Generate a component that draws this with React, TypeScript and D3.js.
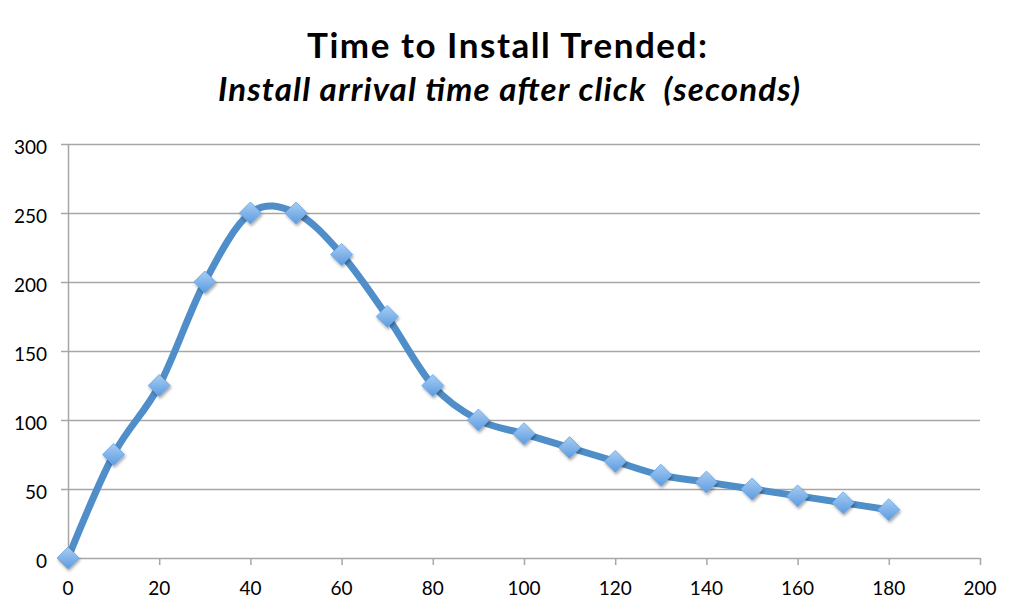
import * as d3 from 'd3';

// Data
const seconds = [0, 10, 20, 30, 40, 50, 60, 70, 80, 90, 100, 110, 120, 130, 140, 150, 160, 170, 180];
const installs = [0, 75, 125, 200, 250, 250, 220, 175, 125, 100, 90, 80, 70, 60, 55, 50, 45, 40, 35];
const xTicks = [0, 20, 40, 60, 80, 100, 120, 140, 160, 180, 200];
const yTicks = [0, 50, 100, 150, 200, 250, 300];

const titleText = 'Time to Install Trended:';
const subtitleText = 'Install arrival time after click  (seconds)';

const W = 1024;
const H = 612;
const margin = { top: 144, right: 44, bottom: 54, left: 68 };
const font = 'Lato, "Open Sans", sans-serif';

export default function App() {
  const x = d3.scaleLinear().domain([0, 200]).range([margin.left, W - margin.right]);
  const y = d3.scaleLinear().domain([0, 300]).range([H - margin.bottom, margin.top]);

  const pts = seconds.map((s, i) => [x(s), y(installs[i])] as [number, number]);
  const line = d3.line().curve(d3.curveCardinal.tension(0))(pts) ?? '';

  const y0 = y(0);
  const diamond = 11;

  return (
    <svg width={W} height={H} style={{ position: 'absolute', left: 0, top: 0, background: '#fff' }}>
      <defs>
        <linearGradient id="mk" x1="0" y1="0" x2="0" y2="1">
          <stop offset="0%" stopColor="#a9cdf3" />
          <stop offset="100%" stopColor="#5b9be0" />
        </linearGradient>
        <filter id="sh" x="-50%" y="-50%" width="200%" height="200%">
          <feDropShadow dx="1" dy="2" stdDeviation="1.5" floodColor="#000" floodOpacity="0.35" />
        </filter>
      </defs>

      <text x={307} y={58} textLength={400} lengthAdjust="spacing" fontFamily={font} fontWeight="bold" fontSize={35} fill="#000">
        {titleText}
      </text>
      <text x={218} y={101} textLength={582} lengthAdjust="spacing" fontFamily={font} fontWeight="bold" fontStyle="italic" fontSize={33} fill="#000" style={{ whiteSpace: 'pre' }}>
        {subtitleText}
      </text>

      {/* horizontal gridlines + y ticks */}
      {yTicks.map((t) => (
        <g key={'y' + t}>
          <line x1={margin.left - 7} x2={W - margin.right} y1={y(t) + 0.5} y2={y(t) + 0.5} stroke="#a6a6a6" strokeWidth={1.5} />
          <text x={margin.left - 21} y={y(t) + 10} textAnchor="end" fontFamily={font} fontSize={19} fill="#000">
            {t}
          </text>
        </g>
      ))}

      {/* y axis line */}
      <line x1={margin.left + 0.5} x2={margin.left + 0.5} y1={y(300)} y2={y0} stroke="#a6a6a6" strokeWidth={1.5} />

      {/* x ticks */}
      {xTicks.map((t) => (
        <g key={'x' + t}>
          {t > 0 && <line x1={x(t) + 0.5} x2={x(t) + 0.5} y1={y0} y2={y0 + 7} stroke="#a6a6a6" strokeWidth={1.5} />}
          <text x={x(t)} y={y0 + 37} textAnchor="middle" fontFamily={font} fontSize={19} fill="#000">
            {t}
          </text>
        </g>
      ))}

      <path d={line} fill="none" stroke="#4f8ec9" strokeWidth={7} strokeLinejoin="round" strokeLinecap="round" />

      {pts.map(([px, py], i) => (
        <path
          key={'m' + i}
          d={`M${px},${py - diamond} L${px + diamond},${py} L${px},${py + diamond} L${px - diamond},${py} Z`}
          fill="url(#mk)"
          stroke="#6aa6e6"
          strokeWidth={0.8}
          filter="url(#sh)"
        />
      ))}
    </svg>
  );
}
